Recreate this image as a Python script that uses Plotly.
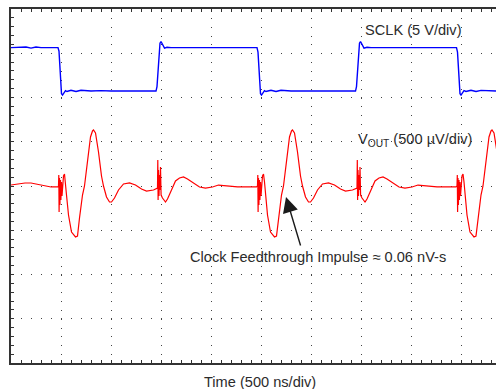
import plotly.graph_objects as go

# ---------------- data ----------------
# time in ns (500 ns/div), SCLK in volts (5 V/div)
sclk_t = [0, 100, 150, 200, 250, 300, 350, 470, 480, 490, 497, 505, 515, 530, 545, 560, 600, 650, 700, 800, 900, 1000, 1200,
          1450, 1460, 1470, 1480, 1490, 1500, 1515, 1535, 1560, 1600, 1700, 2000, 2300,
          2460, 2470, 2480, 2487, 2495, 2505, 2520, 2535, 2550, 2600, 2650, 2700, 2800, 3000, 3200,
          3445, 3455, 3465, 3475, 3485, 3495, 3510, 3530, 3560, 3600, 3700, 4000, 4300,
          4455, 4465, 4475, 4482, 4490, 4500, 4515, 4530, 4550, 4600, 4650, 4700, 4850]
sclk_v = [4.9, 4.9, 4.98, 4.85, 4.98, 4.9, 4.9, 4.9, 4.5, 2.5, 0.8, -0.3, -0.45, -0.2, 0.05, -0.05, 0.08, -0.05, 0.08, 0.0, 0.05, 0.0, 0.0,
          0.0, 0.5, 2.5, 4.3, 5.4, 5.6, 5.2, 4.85, 4.95, 4.9, 4.9, 4.9, 4.9,
          4.9, 4.4, 2.3, 0.7, -0.3, -0.45, -0.2, 0.05, -0.05, 0.08, -0.05, 0.08, 0.0, 0.0, 0.0,
          0.0, 0.5, 2.5, 4.3, 5.4, 5.6, 5.2, 4.85, 4.95, 4.9, 4.9, 4.9, 4.9,
          4.9, 4.4, 2.3, 0.7, -0.3, -0.45, -0.2, 0.05, -0.05, 0.08, -0.05, 0.08, 0.0]

# VOUT in microvolts (500 uV/div)
vout_t = [0, 60, 140, 200, 260, 340, 400, 470,
          475, 478, 481, 485, 489, 495, 499, 505, 510, 525, 535, 545, 555, 575, 605, 645, 665, 685, 715, 735, 765, 795,
          815, 825, 845, 875, 905, 925, 955, 985, 1005, 1035, 1075, 1125, 1185, 1245, 1305, 1355, 1425, 1460,
          1465, 1468, 1471, 1475, 1480, 1485, 1490, 1495, 1501, 1515, 1545, 1565, 1605, 1645, 1685, 1725, 1765, 1825,
          1885, 1945, 2015, 2075, 2165, 2265, 2365, 2455,
          2465, 2468, 2471, 2475, 2479, 2485, 2489, 2495, 2500, 2515, 2525, 2535, 2545, 2565, 2595, 2635, 2655, 2675,
          2705, 2725, 2755, 2785, 2805, 2815, 2835, 2865, 2895, 2915, 2945, 2975, 2995, 3025, 3065, 3115, 3175, 3235,
          3295, 3345, 3415, 3455,
          3460, 3463, 3466, 3470, 3475, 3480, 3485, 3490, 3496, 3510, 3540, 3560, 3600, 3640, 3680, 3720, 3760, 3820,
          3880, 3940, 4010, 4070, 4160, 4260, 4360, 4450,
          4460, 4463, 4466, 4470, 4474, 4480, 4484, 4490, 4495, 4510, 4520, 4530, 4540, 4560, 4590, 4630, 4650, 4670,
          4700, 4720, 4750, 4780, 4800, 4810, 4830, 4860, 4890, 4910]
vout_uv = [11, 23, 34, 34, 23, 0, -11, -11,
           0, 124, -294, 90, -215, 68, -158, 45, -113, 113, 136, 45, -102, -328, -520, -576, -565, -362, -102, 0, 294, 554,
           622, 633, 599, 384, 113, 0, -124, -181, -181, -136, -45, 23, 34, 11, -34, -57, -45, -23,
           -23, 294, -158, 181, -113, 124, -45, 215, -102, -136, -181, -147, -45, 57, 90, 102, 79, 34,
           -11, -23, -11, 11, 0, -11, -11, -11,
           0, 124, -294, 90, -215, 68, -158, 45, -113, 113, 136, 45, -102, -328, -520, -576, -565, -362,
           -102, 0, 294, 554, 622, 633, 599, 384, 113, 0, -124, -181, -181, -136, -45, 23, 34, 11,
           -34, -57, -45, -23,
           -23, 294, -158, 181, -113, 124, -45, 215, -102, -136, -181, -147, -45, 57, 90, 102, 79, 34,
           -11, -23, -11, 11, 0, -11, -11, -11,
           0, 124, -294, 90, -215, 68, -158, 45, -113, 113, 136, 45, -102, -328, -520, -576, -565, -362,
           -102, 0, 294, 554, 622, 633, 599, 384, 113, 0]

sclk_label = "SCLK (5 V/div)"
vout_label = "V<sub>OUT</sub> (500 µV/div)"
impulse_label = "Clock Feedthrough Impulse ≈ 0.06 nV-s"
x_label = "Time (500 ns/div)"

FONT = "Liberation Sans, Arial, Helvetica, sans-serif"
TXT = "#2b2b2b"

fig = go.Figure()
fig.add_trace(go.Scatter(x=vout_t, y=vout_uv, mode="lines", yaxis="y",
                         line=dict(color="#ff0000", width=1.2), hoverinfo="skip"))
fig.add_trace(go.Scatter(x=sclk_t, y=sclk_v, mode="lines", yaxis="y2",
                         line=dict(color="#0000ff", width=1.4), hoverinfo="skip"))

fig.update_layout(
    width=496, height=389,
    margin=dict(l=11, r=0, t=9, b=26),
    paper_bgcolor="white", plot_bgcolor="white",
    showlegend=False,
    font=dict(family=FONT, size=14.6, color=TXT),
    xaxis=dict(range=[0, 4850], dtick=500, tick0=0, showticklabels=False,
               showgrid=True, gridcolor="#444", gridwidth=1, griddash="1px,7.85px",
               zeroline=False, showline=True, linecolor="#333", linewidth=2, mirror="allticks",
               ticks="inside", ticklen=3, tickcolor="#333", tickwidth=1,
               minor=dict(dtick=100, ticks="inside", ticklen=3, tickcolor="#333", tickwidth=1, showgrid=False)),
    yaxis=dict(range=[-2000, 2000], dtick=500, tick0=0, showticklabels=False,
               showgrid=True, gridcolor="#444", gridwidth=1, griddash="1px,9px",
               zeroline=False, showline=True, linecolor="#333", linewidth=2, mirror=False,
               ticks="inside", ticklen=3, tickcolor="#333", tickwidth=1,
               minor=dict(dtick=100, ticks="inside", ticklen=3, tickcolor="#333", tickwidth=1, showgrid=False)),
    yaxis2=dict(range=[-30.73, 9.27], overlaying="y", visible=False),
)

fig.add_annotation(xref="paper", yref="paper", x=0.726, y=0.941, xanchor="left", yanchor="middle",
                   text=sclk_label, showarrow=False)
fig.add_annotation(xref="paper", yref="paper", x=0.711, y=0.630, xanchor="left", yanchor="middle",
                   text=vout_label, showarrow=False)
fig.add_annotation(xref="paper", yref="paper", x=0.365, y=0.299, xanchor="left", yanchor="middle",
                   text=impulse_label, showarrow=False)
fig.add_annotation(xref="paper", yref="paper", x=0.567, y=0.469, ax=15, ay=50,
                   text="", showarrow=True, arrowhead=2, arrowsize=2.2, arrowwidth=1.4, arrowcolor="#1a1a1a")
fig.add_annotation(xref="paper", yref="paper", x=0.513, y=-0.054, xanchor="center", yanchor="middle",
                   text=x_label, showarrow=False)

fig.write_html("out.html", config={"displayModeBar": False},
               post_script="document.body.style.margin='0';")
